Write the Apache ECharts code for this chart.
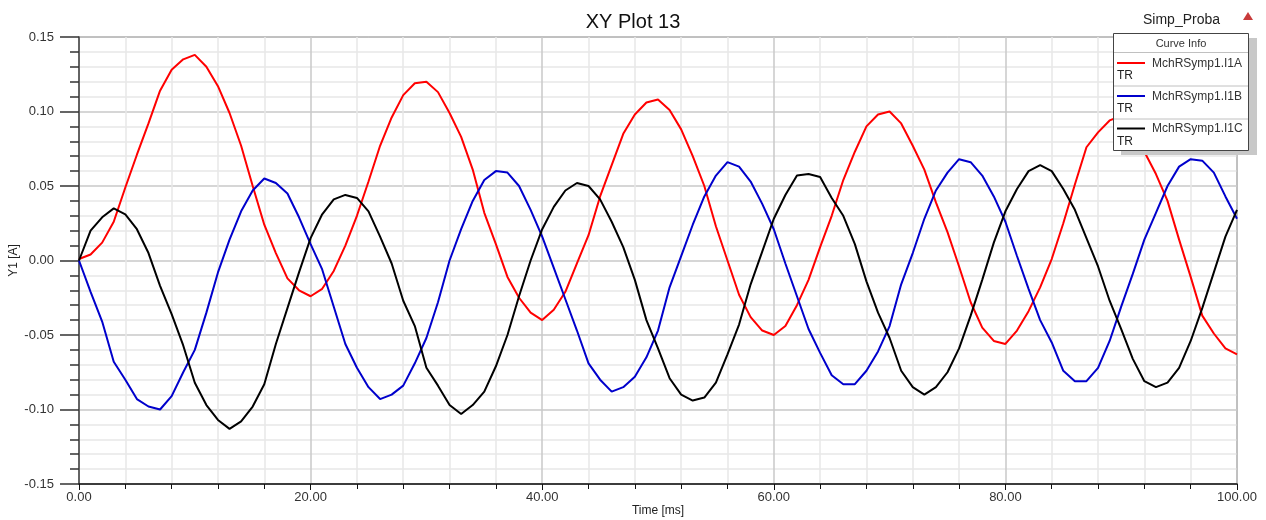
<!DOCTYPE html>
<html>
<head>
<meta charset="utf-8">
<script src="https://cdn.jsdelivr.net/npm/echarts@6/dist/echarts.min.js"></script>
<style>
html,body{margin:0;padding:0;background:#fff;}
#chart{width:1266px;height:520px;}
</style>
</head>
<body>
<div id="chart"></div>
<script>
var chartTitle = 'XY Plot 13';
var projectName = 'Simp_Proba';
var xAxisName = 'Time [ms]';
var yAxisName = 'Y1 [A]';
var seriesNames = ['MchRSymp1.I1A', 'MchRSymp1.I1B', 'MchRSymp1.I1C'];
var seriesColors = ['#ff0000', '#0000cc', '#000000'];

var timeMs = [0,1,2,3,4,5,6,7,8,9,10,11,12,13,14,15,16,17,18,19,20,21,22,23,24,25,26,27,28,29,30,31,32,33,34,35,36,37,38,39,40,41,42,43,44,45,46,47,48,49,50,51,52,53,54,55,56,57,58,59,60,61,62,63,64,65,66,67,68,69,70,71,72,73,74,75,76,77,78,79,80,81,82,83,84,85,86,87,88,89,90,91,92,93,94,95,96,97,98,99,100];

var i1A = [0.001,0.004,0.012,0.026,0.049,0.071,0.092,0.114,0.128,0.135,0.138,0.130,0.117,0.099,0.077,0.050,0.024,0.005,-0.012,-0.020,
-0.024,-0.019,-0.007,0.010,0.030,0.053,0.077,0.096,0.111,0.119,0.120,0.113,0.099,0.083,0.061,0.032,0.011,-0.011,-0.025,-0.035,
-0.040,-0.033,-0.021,-0.002,0.017,0.043,0.064,0.085,0.098,0.106,0.108,0.101,0.088,0.070,0.050,0.023,0.000,-0.023,-0.038,-0.047,
-0.050,-0.044,-0.030,-0.013,0.009,0.030,0.054,0.073,0.090,0.098,0.100,0.092,0.077,0.061,0.039,0.019,-0.004,-0.028,-0.045,-0.054,
-0.056,-0.047,-0.034,-0.018,0.001,0.025,0.051,0.076,0.086,0.094,0.097,0.088,0.073,0.058,0.040,0.014,-0.011,-0.037,-0.049,-0.059,-0.063];

var i1B = [0.000,-0.021,-0.041,-0.068,-0.080,-0.093,-0.098,-0.100,-0.091,-0.075,-0.060,-0.035,-0.008,0.014,0.033,0.047,0.055,0.052,0.045,0.029,
0.011,-0.006,-0.031,-0.056,-0.072,-0.085,-0.093,-0.090,-0.084,-0.069,-0.052,-0.028,0.000,0.021,0.040,0.054,0.060,0.059,0.050,0.034,
0.016,-0.005,-0.026,-0.047,-0.069,-0.080,-0.088,-0.085,-0.078,-0.065,-0.047,-0.018,0.003,0.024,0.043,0.057,0.066,0.063,0.053,0.038,
0.021,-0.002,-0.024,-0.046,-0.062,-0.077,-0.083,-0.083,-0.074,-0.061,-0.044,-0.016,0.005,0.028,0.047,0.059,0.068,0.066,0.057,0.043,
0.026,0.003,-0.019,-0.040,-0.055,-0.074,-0.081,-0.081,-0.072,-0.054,-0.031,-0.009,0.014,0.032,0.050,0.063,0.068,0.067,0.059,0.043,0.028];

var i1C = [0.000,0.020,0.029,0.035,0.031,0.021,0.005,-0.017,-0.036,-0.057,-0.082,-0.097,-0.107,-0.113,-0.108,-0.098,-0.083,-0.056,-0.032,-0.008,
0.015,0.031,0.041,0.044,0.042,0.033,0.016,-0.002,-0.027,-0.044,-0.072,-0.084,-0.097,-0.103,-0.097,-0.088,-0.071,-0.050,-0.024,0.000,
0.021,0.036,0.047,0.052,0.050,0.041,0.026,0.009,-0.013,-0.040,-0.059,-0.079,-0.090,-0.094,-0.092,-0.082,-0.063,-0.043,-0.016,0.006,
0.028,0.044,0.057,0.058,0.056,0.042,0.030,0.011,-0.014,-0.035,-0.052,-0.074,-0.085,-0.090,-0.085,-0.075,-0.059,-0.037,-0.013,0.012,
0.033,0.048,0.060,0.064,0.060,0.048,0.034,0.015,-0.004,-0.027,-0.046,-0.066,-0.081,-0.085,-0.082,-0.072,-0.054,-0.032,-0.008,0.016,0.034];

var seriesValues = [i1A, i1B, i1C];

var FONT = '"Liberation Sans", Arial, sans-serif';

function pairs(vals) {
  return timeMs.map(function (t, k) { return [t, vals[k]]; });
}

var series = seriesNames.map(function (name, s) {
  return {
    name: name,
    type: 'line',
    data: pairs(seriesValues[s]),
    showSymbol: false,
    symbol: 'none',
    lineStyle: { color: seriesColors[s], width: 2 },
    itemStyle: { color: seriesColors[s] },
    z: 2,
    animation: false
  };
});

// legend box ("Curve Info") built from graphic elements
var graphics = [];
graphics.push({ type: 'rect', z: 100, shape: { x: 1121, y: 38, width: 136, height: 117 }, style: { fill: '#c8c8c8' } });
graphics.push({ type: 'rect', z: 101, shape: { x: 1113.5, y: 33.5, width: 135, height: 117 }, style: { fill: '#ffffff', stroke: '#444', lineWidth: 1 } });
graphics.push({ type: 'text', z: 102, x: 1181, y: 44, style: { text: 'Curve Info', fill: '#333', font: '11px ' + FONT, textAlign: 'center', textVerticalAlign: 'middle' } });
graphics.push({ type: 'line', z: 102, shape: { x1: 1114, y1: 52.5, x2: 1248, y2: 52.5 }, style: { stroke: '#c0c0c0', lineWidth: 1 } });
var rowTop = [53, 86, 118.5];
seriesNames.forEach(function (name, s) {
  var y0 = rowTop[s];
  graphics.push({ type: 'line', z: 102, shape: { x1: 1117, y1: y0 + 10, x2: 1145, y2: y0 + 10 }, style: { stroke: seriesColors[s], lineWidth: 2 } });
  graphics.push({ type: 'text', z: 102, x: 1152, y: y0 + 10.5, style: { text: name, fill: '#333', font: '12px ' + FONT, textVerticalAlign: 'middle' } });
  graphics.push({ type: 'text', z: 102, x: 1117, y: y0 + 23, style: { text: 'TR', fill: '#222', font: '12px ' + FONT, textVerticalAlign: 'middle' } });
  if (s < 2) {
    graphics.push({ type: 'line', z: 102, shape: { x1: 1114, y1: y0 + 33, x2: 1248, y2: y0 + 33 }, style: { stroke: '#c0c0c0', lineWidth: 1 } });
  }
});
graphics.push({ type: 'text', z: 102, x: 1143, y: 20, style: { text: projectName, fill: '#222', font: '14px ' + FONT, textVerticalAlign: 'middle' } });
graphics.push({ type: 'polygon', z: 102, shape: { points: [[1243, 20], [1248, 12], [1253, 20]] }, style: { fill: '#c83a3a' } });

var option = {
  backgroundColor: '#ffffff',
  animation: false,
  title: {
    text: chartTitle,
    left: 'center',
    top: 7,
    textStyle: { fontFamily: FONT, fontSize: 20, fontWeight: 'normal', color: '#111' }
  },
  grid: {
    left: 79, right: 29, top: 37, bottom: 36,
    containLabel: false,
    outerBoundsMode: 'none',
    show: true, borderColor: '#555', borderWidth: 1, backgroundColor: '#fff'
  },
  xAxis: {
    type: 'value',
    min: 0, max: 100, interval: 20,
    name: xAxisName,
    nameLocation: 'middle',
    nameGap: 21,
    nameMoveOverlap: false,
    nameTextStyle: { fontFamily: FONT, fontSize: 12, color: '#222' },
    axisLine: { show: true, onZero: false, lineStyle: { color: '#111', width: 1.5 } },
    axisTick: { show: true, length: 6, lineStyle: { color: '#111', width: 1 } },
    minorTick: { show: true, splitNumber: 5, length: 5, lineStyle: { color: '#111', width: 1 } },
    axisLabel: { fontFamily: FONT, fontSize: 13, color: '#333', margin: 7, formatter: function (v) { return v.toFixed(2); } },
    splitLine: { show: true, lineStyle: { color: '#c8c8c8', width: 1.5 } },
    minorSplitLine: { show: true, lineStyle: { color: '#e8e8e8', width: 1.5 } }
  },
  yAxis: {
    type: 'value',
    min: -0.15, max: 0.15, interval: 0.05,
    name: yAxisName,
    nameLocation: 'middle',
    nameRotate: 90,
    nameGap: 59,
    nameMoveOverlap: false,
    nameTextStyle: { fontFamily: FONT, fontSize: 12, color: '#222' },
    axisLine: { show: true, onZero: false, lineStyle: { color: '#444', width: 1.5 } },
    axisTick: { show: true, length: 19, lineStyle: { color: '#333', width: 1.5 } },
    minorTick: { show: true, splitNumber: 5, length: 9, lineStyle: { color: '#333', width: 1.5 } },
    axisLabel: { fontFamily: FONT, fontSize: 13, color: '#333', margin: 25, formatter: function (v) { return v.toFixed(2); } },
    splitLine: { show: true, lineStyle: { color: '#c8c8c8', width: 1.5 } },
    minorSplitLine: { show: true, lineStyle: { color: '#e8e8e8', width: 1.5 } }
  },
  series: series,
  graphic: { elements: graphics }
};

var chart = echarts.init(document.getElementById('chart'), null, { renderer: 'canvas' });
chart.setOption(option);
</script>
</body>
</html>
